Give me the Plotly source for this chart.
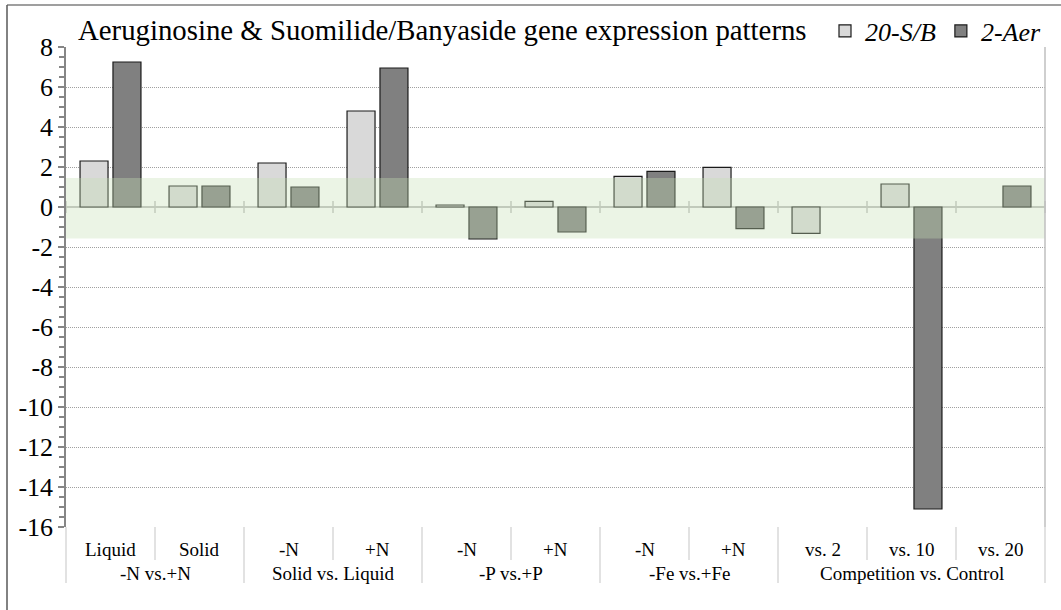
import plotly.graph_objects as go

groups = ["-N vs.+N", "-N vs.+N", "Solid vs. Liquid", "Solid vs. Liquid",
          "-P vs.+P", "-P vs.+P", "-Fe vs.+Fe", "-Fe vs.+Fe",
          "Competition vs. Control", "Competition vs. Control", "Competition vs. Control"]
subs = ["Liquid", "Solid", "-N", "+N", "-N", "+N", "-N", "+N", "vs. 2", "vs. 10", "vs. 20"]
s_b = [2.3, 1.05, 2.2, 4.8, 0.1, 0.28, 1.53, 1.98, -1.32, 1.15, None]
aer = [7.25, 1.05, 1.0, 6.95, -1.6, -1.25, 1.78, -1.08, None, -15.1, 1.05]
band = [-1.58, 1.45]
yticks = list(range(-16, 9, 2))

SERIF = "Liberation Serif"
L, R, T, B = 66, 16, 47, 83
W, H = 1061, 610
pw, ph = W - L - R, H - T - B

fig = go.Figure()
fig.add_trace(go.Bar(x=[groups, subs], y=s_b, name="20-S/B",
                     marker=dict(color="#D9D9D9", line=dict(color="#1a1a1a", width=1.2))))
fig.add_trace(go.Bar(x=[groups, subs], y=aer, name="2-Aer",
                     marker=dict(color="#808080", line=dict(color="#1a1a1a", width=1.2))))

shapes = []
# significance band
shapes.append(dict(type="rect", xref="paper", yref="y", x0=0, x1=1, y0=band[0], y1=band[1],
                   fillcolor="rgba(198,224,180,0.35)", line=dict(width=0), layer="above"))
# cross ticks on zero line at category boundaries
n = len(subs)
for k in range(n + 1):
    shapes.append(dict(type="line", xref="paper", yref="y", x0=k / n, x1=k / n, y0=-0.3, y1=0.3,
                       line=dict(color="#BFBFBF", width=1.5), layer="below"))
# separators below axis
for k in range(n + 1):
    is_group = k == 0 or k == n or groups[k] != groups[k - 1]
    depth = 56 if is_group else 33
    shapes.append(dict(type="line", xref="paper", yref="paper", x0=k / n, x1=k / n,
                       y0=0, y1=-depth / ph, line=dict(color="#D9D9D9", width=1.5)))
# right border of plot
shapes.append(dict(type="line", xref="paper", yref="paper", x0=1, x1=1, y0=0, y1=1,
                   line=dict(color="#BFBFBF", width=1.5)))
# outer chart border (top & left)
shapes.append(dict(type="line", xref="paper", yref="paper", x0=(7 - L) / pw, x1=1.1,
                   y0=(H - B - 5) / ph, y1=(H - B - 5) / ph, line=dict(color="#7F7F7F", width=1.5)))
shapes.append(dict(type="line", xref="paper", yref="paper", x0=(7 - L) / pw, x1=(7 - L) / pw,
                   y0=(H - B - 5) / ph, y1=-0.2, line=dict(color="#595959", width=1.5)))

# inner and group labels
annotations = []
for k in range(n):
    annotations.append(dict(xref="paper", yref="paper", x=(k + 0.5) / n, y=-22 / ph,
                            text=subs[k], showarrow=False, font=dict(family=SERIF, size=19, color="#000"),
                            xanchor="center", yanchor="middle"))
seen = []
for g in groups:
    if g not in seen:
        seen.append(g)
for g in seen:
    idx = [i for i, gg in enumerate(groups) if gg == g]
    c = (idx[0] + idx[-1] + 1) / 2 / n
    annotations.append(dict(xref="paper", yref="paper", x=c, y=-46.5 / ph, text=g, showarrow=False,
                            font=dict(family=SERIF, size=19, color="#000"),
                            xanchor="center", yanchor="middle"))

fig.update_layout(
    width=W, height=H,
    margin=dict(l=L, r=R, t=T, b=B, autoexpand=False),
    paper_bgcolor="white", plot_bgcolor="white",
    barmode="group", bargap=0.26, bargroupgap=0.15,
    title=dict(text="Aeruginosine & Suomilide/Banyaside gene expression patterns",
               font=dict(family=SERIF, size=28.8, color="#000"),
               x=78 / W, xanchor="left", xref="container", y=1 - 30 / H, yanchor="middle",
               automargin=False),
    legend=dict(orientation="h", x=1046 / W, xanchor="right", xref="container",
                y=1 - 31 / H, yanchor="middle", yref="container",
                font=dict(family=SERIF, size=26, color="#000", style="italic"),
                bgcolor="rgba(0,0,0,0)", itemwidth=30, tracegroupgap=0),
    shapes=shapes, annotations=annotations,
    showlegend=True,
)
fig.update_xaxes(showticklabels=False, showgrid=False, zeroline=False, showline=False, ticks="",
                 showdividers=False)
fig.update_yaxes(range=[-16, 8], tickvals=yticks, ticktext=[str(v) for v in yticks],
                 tickfont=dict(family=SERIF, size=26, color="#000"),
                 showline=True, linecolor="#868686", linewidth=1.5,
                 ticks="outside", ticklen=6, tickcolor="#868686", tickwidth=1.5,
                 minor=dict(dtick=0.5, ticks="outside", ticklen=5, tickcolor="#868686", showgrid=False),
                 showgrid=True, gridcolor="#A0A0A0", griddash="1px,1px", gridwidth=1,
                 zeroline=True, zerolinecolor="#BFBFBF", zerolinewidth=1.5)

fig.write_html("out.html")
